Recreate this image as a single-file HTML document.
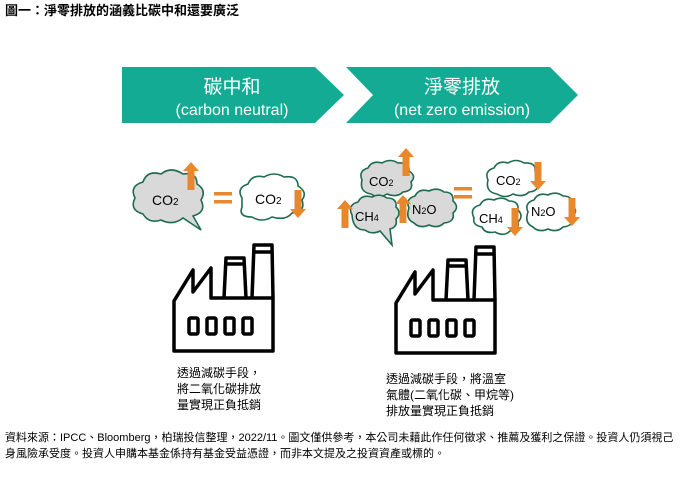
<!DOCTYPE html>
<html><head><meta charset="utf-8"><style>
body{margin:0;background:#fff;width:700px;height:492px;overflow:hidden;font-family:"Liberation Sans","Noto Sans CJK TC",sans-serif;}
</style></head><body>
<svg width="700" height="492" viewBox="0 0 700 492" xmlns="http://www.w3.org/2000/svg" font-family="Liberation Sans, Noto Sans CJK TC, sans-serif">
<text x="5" y="15" font-size="13" font-weight="bold" fill="#000">圖一：淨零排放的涵義比碳中和還要廣泛</text>
<polygon points="122,67 315,67 344,95 315,123 122,123" fill="#13ab94"/>
<polygon points="346,67 550,67 578,95 550,123 346,123 373,95" fill="#13ab94"/>
<text x="232" y="93" font-size="19" fill="#fff" text-anchor="middle">碳中和</text>
<text x="232" y="115" font-size="16" fill="#fff" text-anchor="middle">(carbon neutral)</text>
<text x="462" y="93" font-size="19" fill="#fff" text-anchor="middle">淨零排放</text>
<text x="462" y="115" font-size="16" fill="#fff" text-anchor="middle">(net zero emission)</text>
<defs>
<g id="up"><polygon points="0,-14 8,-5 3.5,-5 3.5,14 -3.5,14 -3.5,-5 -8,-5" fill="#e8882e"/></g>
<g id="dn"><polygon points="0,14 8,5 3.5,5 3.5,-14 -3.5,-14 -3.5,5 -8,5" fill="#e8882e"/></g>
</defs>
<g stroke="#1f6b4f" stroke-width="1.6">
<path d="M135,198 q-6,-12 8,-16 q4,-12 18,-8 q10,-8 22,0 q14,-2 14,10 q10,6 4,16 q6,12 -8,16 l8,14 l-18,-12 q-10,8 -22,2 q-12,4 -18,-6 q-14,-4 -8,-16z" fill="#d9d9d9"/>
<path d="M242,198 q-6,-10 6,-14 q4,-10 16,-7 q10,-6 20,0 q14,-2 14,9 q10,6 4,14 q4,12 -10,13 q-6,8 -20,4 q-10,6 -20,0 q-14,0 -10,-10z" fill="#fff"/>
<path d="M362,180 q-4,-9 6,-12 q4,-8 14,-5 q8,-5 16,0 q12,-1 11,8 q8,5 2,11 q3,9 -8,10 q-6,6 -16,2 q-8,5 -16,0 q-12,-2 -9,-14z" fill="#d9d9d9"/>
<path d="M352,215 q-5,-10 6,-13 q4,-8 14,-5 q8,-4 15,1 q10,0 9,9 q6,6 0,12 q2,8 -6,10 l2,16 l-12,-14 q-8,4 -15,-1 q-12,0 -13,-15z" fill="#d9d9d9"/>
<path d="M409,208 q-4,-9 6,-12 q4,-8 14,-5 q8,-4 15,1 q10,0 9,9 q7,6 0,12 q2,9 -9,10 q-6,6 -15,2 q-9,4 -15,-2 q-9,-4 -5,-15z" fill="#d9d9d9"/>
<path d="M488,180 q-4,-9 6,-12 q4,-8 14,-5 q8,-5 16,0 q12,-1 11,8 q8,5 2,11 q3,9 -8,10 q-6,6 -16,2 q-8,5 -16,0 q-12,-2 -9,-14z" fill="#fff"/>
<path d="M474,218 q-5,-10 6,-13 q4,-8 14,-5 q8,-4 15,1 q10,0 9,9 q6,6 0,12 q2,8 -8,9 q-6,6 -15,1 q-10,2 -13,-5 q-10,-2 -8,-9z" fill="#fff"/>
<path d="M528,212 q-4,-9 6,-12 q4,-8 14,-5 q8,-4 15,1 q10,0 9,9 q7,6 0,12 q2,9 -9,10 q-6,6 -15,2 q-9,4 -15,-2 q-9,-4 -5,-15z" fill="#fff"/>
</g>
<g font-size="14" fill="#000">
<text x="152" y="205">CO<tspan font-size="10">2</tspan></text>
<text x="255" y="204">CO<tspan font-size="10">2</tspan></text>
<text x="369" y="186" font-size="13">CO<tspan font-size="9">2</tspan></text>
<text x="355" y="221" font-size="13">CH<tspan font-size="9">4</tspan></text>
<text x="412" y="214" font-size="13">N<tspan font-size="9">2</tspan>O</text>
<text x="496" y="185" font-size="13">CO<tspan font-size="9">2</tspan></text>
<text x="479" y="223" font-size="13">CH<tspan font-size="9">4</tspan></text>
<text x="531" y="216" font-size="13">N<tspan font-size="9">2</tspan>O</text>
</g>
<use href="#up" x="191" y="176"/>
<use href="#dn" x="298" y="204"/>
<use href="#up" x="406" y="162"/>
<use href="#up" x="345" y="214"/>
<use href="#up" x="403" y="209"/>
<use href="#dn" x="538" y="176"/>
<use href="#dn" x="515" y="222"/>
<use href="#dn" x="572" y="212"/>
<g fill="#e8882e">
<rect x="214" y="192" width="18" height="3.5"/><rect x="214" y="200" width="18" height="3.5"/>
<rect x="454" y="187" width="18" height="3.5"/><rect x="454" y="195" width="18" height="3.5"/>
</g>
<g id="fac" fill="none" stroke="#000" stroke-width="3.5" stroke-linejoin="round">
<path d="M174,351 V301 L193,270 V292 L211,268 V298 H273 V351 Z"/>
<path d="M224,298 L226,258 H244 L246,298"/>
<line x1="226" y1="264" x2="244" y2="264"/>
<path d="M252,298 L254,245 H272 L273,298"/>
<line x1="254" y1="252" x2="272" y2="252"/>
<rect x="189" y="318" width="9" height="16" rx="1.5" stroke-width="3.5"/>
<rect x="207" y="318" width="9" height="16" rx="1.5" stroke-width="3.5"/>
<rect x="225" y="318" width="9" height="16" rx="1.5" stroke-width="3.5"/>
<rect x="243" y="318" width="9" height="16" rx="1.5" stroke-width="3.5"/>
</g>
<use href="#fac" x="222" y="2"/>
<g font-size="12" fill="#000">
<text x="177" y="377">透過減碳手段，</text>
<text x="177" y="393">將二氧化碳排放</text>
<text x="177" y="409">量實現正負抵銷</text>
<text x="386" y="383">透過減碳手段，將溫室</text>
<text x="386" y="399">氣體(二氧化碳、甲烷等)</text>
<text x="386" y="415">排放量實現正負抵銷</text>
</g>
<g font-size="11" fill="#000">
<text x="5" y="441">資料來源：IPCC、Bloomberg，柏瑞投信整理，2022/11。圖文僅供參考，本公司未藉此作任何徵求、推薦及獲利之保證。投資人仍須視己</text>
<text x="5" y="457">身風險承受度。投資人申購本基金係持有基金受益憑證，而非本文提及之投資資產或標的。</text>
</g>
</svg>
</body></html>
